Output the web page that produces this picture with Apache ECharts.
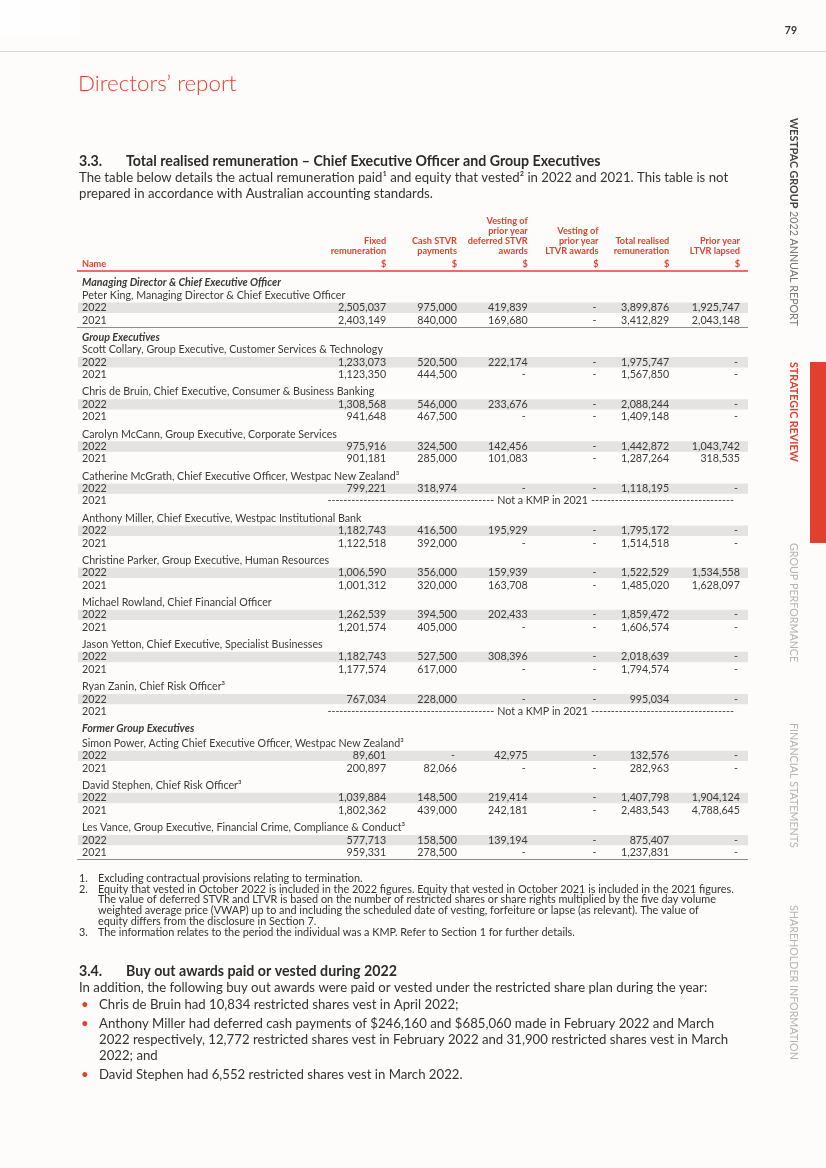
<!DOCTYPE html>
<html><head><meta charset="utf-8">
<script src="https://cdn.jsdelivr.net/npm/echarts@6/dist/echarts.min.js"></script>
<style>html,body{margin:0;padding:0;background:#fdfcfb}#c{width:826px;height:1168px}</style>
</head><body><div id="c"></div>
<script>
// ---------------- data ----------------
const sectionTitles = ['Managing Director & Chief Executive Officer', 'Group Executives', 'Former Group Executives'];
const personNames = [
  'Peter King, Managing Director & Chief Executive Officer',
  'Scott Collary, Group Executive, Customer Services & Technology',
  'Chris de Bruin, Chief Executive, Consumer & Business Banking',
  'Carolyn McCann, Group Executive, Corporate Services',
  'Catherine McGrath, Chief Executive Officer, Westpac New Zealand³',
  'Anthony Miller, Chief Executive, Westpac Institutional Bank',
  'Christine Parker, Group Executive, Human Resources',
  'Michael Rowland, Chief Financial Officer',
  'Jason Yetton, Chief Executive, Specialist Businesses',
  'Ryan Zanin, Chief Risk Officer³',
  'Simon Power, Acting Chief Executive Officer, Westpac New Zealand³',
  'David Stephen, Chief Risk Officer³',
  'Les Vance, Group Executive, Financial Crime, Compliance & Conduct³'
];
const personSection = [0, 1, 1, 1, 1, 1, 1, 1, 1, 1, 2, 2, 2];
const yearLabels = ['2022', '2021'];
// two rows per person (2022, 2021); null = not a KMP, 0 = '-'
const fixedRemuneration = [2505037, 2403149, 1233073, 1123350, 1308568, 941648, 975916, 901181, 799221, null, 1182743, 1122518, 1006590, 1001312, 1262539, 1201574, 1182743, 1177574, 767034, null, 89601, 200897, 1039884, 1802362, 577713, 959331];
const cashStvrPayments = [975000, 840000, 520500, 444500, 546000, 467500, 324500, 285000, 318974, null, 416500, 392000, 356000, 320000, 394500, 405000, 527500, 617000, 228000, null, 0, 82066, 148500, 439000, 158500, 278500];
const deferredStvrVesting = [419839, 169680, 222174, 0, 233676, 0, 142456, 101083, 0, null, 195929, 0, 159939, 163708, 202433, 0, 308396, 0, 0, null, 42975, 0, 219414, 242181, 139194, 0];
const ltvrAwardsVesting = [0, 0, 0, 0, 0, 0, 0, 0, 0, null, 0, 0, 0, 0, 0, 0, 0, 0, 0, null, 0, 0, 0, 0, 0, 0];
const totalRealised = [3899876, 3412829, 1975747, 1567850, 2088244, 1409148, 1442872, 1287264, 1118195, null, 1795172, 1514518, 1522529, 1485020, 1859472, 1606574, 2018639, 1794574, 995034, null, 132576, 282963, 1407798, 2483543, 875407, 1237831];
const ltvrLapsed = [1925747, 2043148, 0, 0, 0, 0, 1043742, 318535, 0, null, 0, 0, 1534558, 1628097, 0, 0, 0, 0, 0, null, 0, 0, 1904124, 4788645, 0, 0];
const columnHeaders = ['Fixed\nremuneration', 'Cash STVR\npayments', 'Vesting of\nprior year\ndeferred STVR\nawards', 'Vesting of\nprior year\nLTVR awards', 'Total realised\nremuneration', 'Prior year\nLTVR lapsed'];
const columnUnits = ['$', '$', '$', '$', '$', '$'];
const nameHeader = 'Name';
const notKmpLabel = 'Not a KMP in 2021';

// ---------------- layout / style ----------------
const columns = [fixedRemuneration, cashStvrPayments, deferredStvrVesting, ltvrAwardsVesting, totalRealised, ltvrLapsed];
const RED = '#e1412e', TXT = '#3a3a3a', GREY_BAND = '#e4e3e1';
const FONT = 'Lato';
const TFS = 10.7;
const PITCH = 12.4, GAP = 4.9 / 12.4, SMALL = 2.3 / 12.4, TOP = 283;
const XMIN = -3.3, XMAX = 6;

const rows = [], rules = [];
let pos = -1, prev = -1;
function add(r, gap) { pos += 1 + gap; r.pos = pos; rows.push(r); }
personNames.forEach((nm, i) => {
  const s = personSection[i];
  let g = GAP;
  if (s !== prev) {
    if (prev === 0) rules.push(pos + 0.52);
    add({ kind: 'section', text: sectionTitles[s] }, prev < 0 ? 0 : GAP);
    g = s === 2 ? SMALL : 0;
    prev = s;
  }
  add({ kind: 'name', text: nm }, g);
  yearLabels.forEach((y, k) => add({ kind: 'year', label: y, di: i * 2 + k, shade: k === 0 }, 0));
});
rules.push(pos + 0.56);
const yMax = pos + 1;

const fmt = v => v === 0 ? '-' : v.toLocaleString('en-US');
const measure = (() => { const c = document.createElement('canvas').getContext('2d'); return (t, f) => { c.font = f; return c.measureText(t).width; }; })();

function txt(x, y, text, o) {
  return { type: 'text', x: x, y: y, style: Object.assign({ text: text, fill: TXT, fontFamily: FONT, fontSize: TFS, textAlign: 'left', textVerticalAlign: 'middle' }, o || {}) };
}

function renderRow(params, api) {
  const r = rows[api.value(1)];
  const y = api.coord([XMIN, r.pos])[1];
  const xL = api.coord([XMIN, r.pos])[0];
  const ch = [];
  if (r.kind === 'section') {
    ch.push(txt(xL, y, r.text, { fontWeight: 'bold', fontStyle: 'italic' }));
  } else if (r.kind === 'name') {
    ch.push(txt(xL, y, r.text));
  } else {
    if (r.shade) {
      const a = api.coord([-3.357, r.pos]), b = api.coord([6.113, r.pos]);
      ch.push({ type: 'rect', shape: { x: a[0], y: y - 5.2, width: b[0] - a[0], height: 10.4 }, style: { fill: GREY_BAND } });
    }
    ch.push(txt(xL, y, r.label));
    if (columns[0][r.di] === null) {
      const f = TFS + 'px ' + FONT;
      const cx = api.coord([3.21, r.pos])[0];
      const lw = measure(notKmpLabel, f), dw = measure('-', f);
      const left = api.coord([0.16, r.pos])[0], right = api.coord([5.96, r.pos])[0];
      const l1 = cx - lw / 2 - 3, r1 = cx + lw / 2 + 3;
      const nL = Math.floor((l1 - left) / dw), nR = Math.floor((right - r1) / dw);
      ch.push(txt(l1, y, '-'.repeat(nL), { textAlign: 'right' }));
      ch.push(txt(cx, y, notKmpLabel, { textAlign: 'center' }));
      ch.push(txt(r1, y, '-'.repeat(nR), { textAlign: 'left' }));
    } else {
      columns.forEach((col, c) => {
        const x = api.coord([c + 1, r.pos])[0];
        const v = col[r.di];
        ch.push(txt(v === 0 ? x - 2 : x, y, fmt(v), { textAlign: 'right' }));
      });
    }
  }
  return { type: 'group', children: ch };
}

function renderHeader(params, api) {
  const ch = [];
  const y0 = api.coord([XMIN, 0])[1];
  const xL = api.coord([XMIN, 0])[0];
  const hs = { fill: RED, fontWeight: 'bold', fontSize: 9.2, lineHeight: 10 };
  ch.push(txt(xL, y0 - 19, nameHeader, hs));
  columnHeaders.forEach((h, c) => {
    const x = api.coord([c + 1, 0])[0];
    ch.push(txt(x, y0 - 27, h, Object.assign({}, hs, { textAlign: 'right', textVerticalAlign: 'bottom' })));
    ch.push(txt(x, y0 - 19, columnUnits[c], Object.assign({}, hs, { textAlign: 'right' })));
  });
  const a = api.coord([-3.37, 0]), b = api.coord([6.113, 0]);
  ch.push({ type: 'line', shape: { x1: a[0], y1: y0 - 12, x2: b[0], y2: y0 - 12 }, style: { stroke: RED, lineWidth: 1.6 } });
  rules.forEach(p => {
    const yy = Math.round(api.coord([XMIN, p])[1]) + 0.5;
    ch.push({ type: 'line', shape: { x1: a[0], y1: yy, x2: b[0], y2: yy }, style: { stroke: '#8c8c8c', lineWidth: 1 } });
  });
  return { type: 'group', children: ch };
}

// ---------------- page text ----------------
const BODY = 13.2, HEAD = 14.2, FOOT = 10.85, SIDE = 10.7;
function gtext(x, y, text, o) {
  return { type: 'text', x: x, y: y, style: Object.assign({ text: text, fill: '#333333', fontFamily: FONT, fontSize: BODY, textAlign: 'left', textVerticalAlign: 'middle' }, o || {}) };
}
function vtext(x, y, text, o) {
  const t = gtext(x, y, text, Object.assign({ fontSize: SIDE, fill: '#b8b3b0' }, o || {}));
  t.rotation = -Math.PI / 2;
  return t;
}
const para33 = ['The table below details the actual remuneration paid¹ and equity that vested² in 2022 and 2021. This table is not', 'prepared in accordance with Australian accounting standards.'];
const footnotes = [
  ['1.', ['Excluding contractual provisions relating to termination.']],
  ['2.', ['Equity that vested in October 2022 is included in the 2022 figures. Equity that vested in October 2021 is included in the 2021 figures.', 'The value of deferred STVR and LTVR is based on the number of restricted shares or share rights multiplied by the five day volume', 'weighted average price (VWAP) up to and including the scheduled date of vesting, forfeiture or lapse (as relevant). The value of', 'equity differs from the disclosure in Section 7.']],
  ['3.', ['The information relates to the period the individual was a KMP. Refer to Section 1 for further details.']]
];
const bullets = [
  ['Chris de Bruin had 10,834 restricted shares vest in April 2022;'],
  ['Anthony Miller had deferred cash payments of $246,160 and $685,060 made in February 2022 and March', '2022 respectively, 12,772 restricted shares vest in February 2022 and 31,900 restricted shares vest in March', '2022; and'],
  ['David Stephen had 6,552 restricted shares vest in March 2022.']
];

const g = [];
g.push({ type: 'rect', shape: { x: 0, y: 0, width: 80, height: 35 }, style: { fill: '#fefefe' } });
g.push({ type: 'line', shape: { x1: 0, y1: 51.5, x2: 826, y2: 51.5 }, style: { stroke: '#d9d5d2', lineWidth: 1 } });
g.push(gtext(797, 31, '79', { fontWeight: 'bold', fontSize: 10.5, textAlign: 'right', fill: '#333' }));
g.push(gtext(78, 84, 'Directors’ report', { fontSize: 22.4, fontWeight: 300, fill: RED }));
g.push(gtext(79, 161, '3.3.', { fontWeight: 'bold', fontSize: HEAD, fill: '#2b2b2b' }));
g.push(gtext(126, 161, 'Total realised remuneration – Chief Executive Officer and Group Executives', { fontWeight: 'bold', fontSize: HEAD, fill: '#2b2b2b' }));
para33.forEach((l, i) => g.push(gtext(79, 178 + i * 16, l)));
let fy = 878;
footnotes.forEach(([n, lines]) => {
  g.push(gtext(79, fy, n, { fontSize: FOOT }));
  lines.forEach((l, i) => g.push(gtext(98, fy + i * 10.7, l, { fontSize: FOOT })));
  fy += lines.length * 10.7 + 0.3;
});
g.push(gtext(79, 971, '3.4.', { fontWeight: 'bold', fontSize: HEAD, fill: '#2b2b2b' }));
g.push(gtext(126, 971, 'Buy out awards paid or vested during 2022', { fontWeight: 'bold', fontSize: HEAD, fill: '#2b2b2b' }));
g.push(gtext(79, 988, 'In addition, the following buy out awards were paid or vested under the restricted share plan during the year:'));
let by = 1005;
bullets.forEach(lines => {
  g.push(gtext(81, by, '•', { fill: RED }));
  lines.forEach((l, i) => g.push(gtext(99, by + i * 16.3, l)));
  by += (lines.length - 1) * 16.3 + 18.5;
});
// side navigation
g.push({ type: 'rect', shape: { x: 810, y: 362, width: 16, height: 181 }, style: { fill: '#e0402d' } });
g.push({ type: 'text', x: 793, y: 118, rotation: -Math.PI / 2, style: { text: '{b|WESTPAC GROUP} {r|2022 ANNUAL REPORT}', fontFamily: FONT, fontSize: SIDE, textAlign: 'left', textVerticalAlign: 'middle', rich: { b: { fontWeight: 'bold', fill: '#444', fontFamily: FONT, fontSize: SIDE }, r: { fill: '#777', fontFamily: FONT, fontSize: SIDE } } } });
g.push(vtext(793, 362, 'STRATEGIC REVIEW', { fill: RED, fontWeight: 'bold' }));
g.push(vtext(793, 543, 'GROUP PERFORMANCE'));
g.push(vtext(793, 723, 'FINANCIAL STATEMENTS'));
g.push(vtext(793, 905, 'SHAREHOLDER INFORMATION'));

const chart = echarts.init(document.getElementById('c'), null, { renderer: 'canvas' });
chart.setOption({
  backgroundColor: '#fdfcfb',
  animation: false,
  grid: { left: 82, right: 86, top: TOP, height: yMax * PITCH },
  xAxis: { type: 'value', min: XMIN, max: XMAX, show: false },
  yAxis: { type: 'value', min: 0, max: yMax, inverse: true, show: false },
  graphic: { elements: g },
  series: [
    { type: 'custom', renderItem: renderHeader, data: [[0, 0]], silent: true },
    { type: 'custom', renderItem: renderRow, data: rows.map((r, i) => [r.pos, i]), encode: { x: -1, y: 0 }, silent: true }
  ]
});
</script></body></html>
